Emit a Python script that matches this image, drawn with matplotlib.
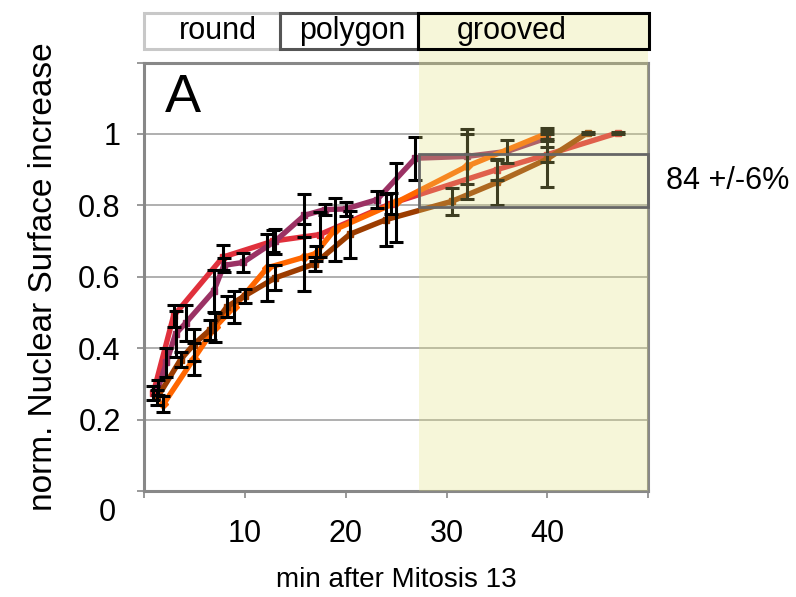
import matplotlib
matplotlib.use("Agg")
import matplotlib.pyplot as plt
from matplotlib.patches import Rectangle

plt.rcParams['font.family'] = ['Liberation Sans', 'DejaVu Sans']

# ---- data ----
red_t = [0.9, 2.9, 7.8, 12.8, 17.4, 24.5, 35.0, 40.0, 47.0]
red_v = [0.275, 0.49, 0.655, 0.70, 0.718, 0.805, 0.90, 0.942, 1.003]
red_e = [0.02, 0.03, 0.035, 0.03, 0.063, 0.03, 0.03, 0.02, 0.003]

pur_t = [1.4, 2.2, 3.1, 4.1, 6.9, 7.9, 9.8, 13.0, 15.9, 17.9, 20.0, 23.1, 26.9, 32.0, 36.0, 40.0]
pur_v = [0.29, 0.36, 0.44, 0.47, 0.56, 0.632, 0.64, 0.70, 0.772, 0.788, 0.79, 0.816, 0.932, 0.937, 0.951, 0.989]
pur_e = [0.02, 0.04, 0.065, 0.05, 0.058, 0.02, 0.027, 0.035, 0.06, 0.015, 0.02, 0.024, 0.06, 0.078, 0.032, 0.01]

ora_t = [1.9, 4.9, 7.0, 8.9, 12.2, 15.9, 17.0, 18.9, 25.0, 32.0, 40.0]
ora_v = [0.243, 0.37, 0.458, 0.515, 0.625, 0.655, 0.665, 0.732, 0.808, 0.909, 1.002]
ora_e = [0.022, 0.045, 0.04, 0.044, 0.094, 0.094, 0.02, 0.088, 0.11, 0.09, 0.015]

bro_t = [1.3, 3.6, 4.9, 6.5, 8.2, 10.0, 13.0, 16.9, 20.4, 24.0, 30.5, 35.0, 40.0, 44.0]
bro_v = [0.262, 0.368, 0.41, 0.451, 0.516, 0.547, 0.597, 0.636, 0.719, 0.76, 0.811, 0.864, 0.93, 1.003]
bro_e = [0.02, 0.02, 0.045, 0.028, 0.03, 0.02, 0.035, 0.02, 0.066, 0.073, 0.038, 0.062, 0.078, 0.003]

x_ticks = [0, 10, 20, 30, 40, 50]
x_labels = ['', '10', '20', '30', '40', '']
y_ticks = [0, 0.2, 0.4, 0.6, 0.8, 1.0, 1.2]
y_labels = ['', '0.2', '0.4', '0.6', '0.8', '1', '']
grid_vals = [0.2, 0.4, 0.6, 0.8, 1.0]

grooved_start = 27.3
box_low, box_high = 0.795, 0.944
legend_names = ['round', 'polygon', 'grooved']
legend_edges = [0.0, 13.5, 27.2, 50.1]

# ---- figure ----
fig = plt.figure(figsize=(7.96, 5.97), dpi=100)
ax = fig.add_axes([0.1813, 0.1776, 0.6328, 0.7177])
ax.set_xlim(0, 50)
ax.set_ylim(0, 1.2)

for g in grid_vals:
    ax.axhline(g, color='#9a9a9a', lw=1.1, zorder=1)

series = [
    (red_t, red_v, red_e, '#e0303c', 's'),
    (pur_t, pur_v, pur_e, '#9b3264', 's'),
    (ora_t, ora_v, ora_e, '#ff6600', 'D'),
    (bro_t, bro_v, bro_e, '#9c3c00', 's'),
]
for t, v, e, c, m in series:
    ax.plot(t, v, color=c, lw=3.9, marker=m, ms=5, mec=c, mfc=c, zorder=3,
            solid_capstyle='round', solid_joinstyle='round')
for t, v, e, c, m in series:
    ax.errorbar(t, v, yerr=e, fmt='none', ecolor='black', elinewidth=2.2,
                capsize=5, capthick=2.2, zorder=4)

# grooved overlay (semi-transparent, covers lines)
ax.add_patch(Rectangle((grooved_start, 0), 50 - grooved_start, 1.34,
                       facecolor=(0.88, 0.88, 0.47), alpha=0.28, edgecolor='none',
                       zorder=5, clip_on=False))

# 84 +/- 6% box
ax.add_patch(Rectangle((grooved_start, box_low), 50 - grooved_start, box_high - box_low,
                       facecolor='none', edgecolor='#666666', lw=2.0, zorder=6, clip_on=False))
ax.text(51.8, (box_low + box_high) / 2, '84 +/-6%', fontsize=22, ha='left', va='center',
        clip_on=False)

# legend boxes at top
edge_cols = ['#c8c8c8', '#555555', '#000000']
txt_x = [7.3, 20.6, 36.5]
for i, name in enumerate(legend_names):
    ax.add_patch(Rectangle((legend_edges[i], 1.238), legend_edges[i + 1] - legend_edges[i], 0.101,
                           facecolor='none', edgecolor=edge_cols[i], lw=2.2, zorder=7 + i,
                           clip_on=False))
    ax.text(txt_x[i], 1.289, name, fontsize=22, ha='center', va='center', zorder=10,
            clip_on=False)

ax.text(2.05, 1.06, 'A', fontsize=39, ha='left', va='baseline', zorder=10)

# axes styling
for s in ax.spines.values():
    s.set_color('#888888')
    s.set_linewidth(2.2)
ax.set_xticks(x_ticks)
ax.set_xticklabels(x_labels)
ax.set_yticks(y_ticks)
ax.set_yticklabels(y_labels)
ax.tick_params(axis='both', direction='out', length=5, width=1.2, color='#888888',
               labelsize=22)
ax.tick_params(axis='x', pad=15)
ax.tick_params(axis='y', pad=12)
ax.text(-3.7, -0.062, '0', fontsize=22, ha='center', va='center', clip_on=False)

ax.set_xlabel('min after Mitosis 13', fontsize=20, labelpad=13)
ax.set_ylabel('norm. Nuclear Surface increase', fontsize=24, labelpad=14)

fig.savefig('out.png', dpi=100)
